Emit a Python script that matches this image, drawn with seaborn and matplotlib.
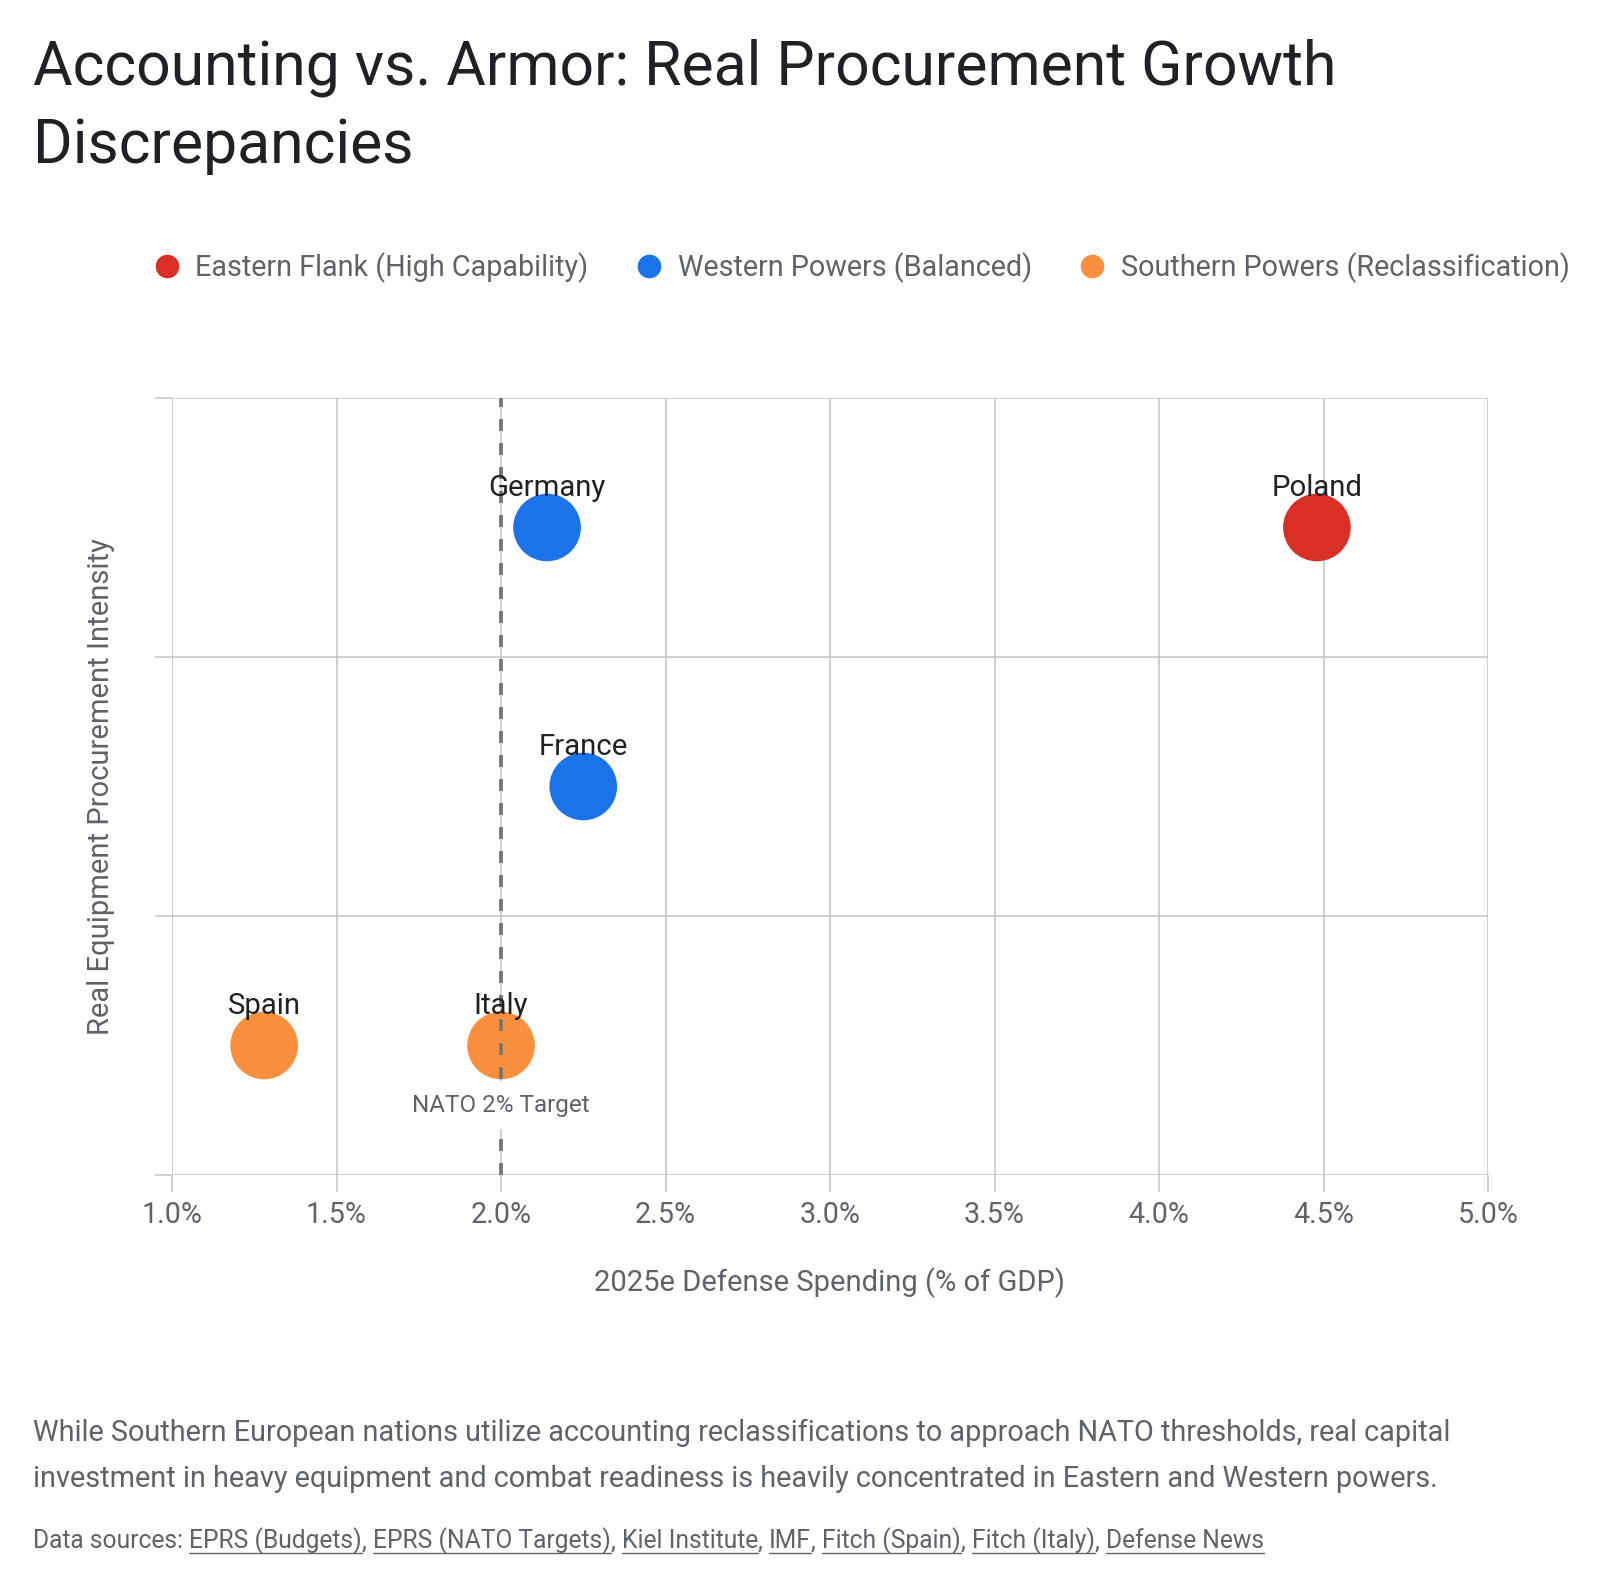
import matplotlib
matplotlib.use("Agg")
import matplotlib.pyplot as plt
from matplotlib.lines import Line2D
import matplotlib.transforms as mtransforms
import seaborn as sns
import pandas as pd

# ---------------- data ----------------
countries = ["Poland", "Germany", "France", "Italy", "Spain"]
spending = [4.48, 2.14, 2.25, 2.00, 1.28]
intensity = [2.5, 2.5, 1.5, 0.5, 0.5]
groups = ["Eastern Flank (High Capability)", "Western Powers (Balanced)",
          "Western Powers (Balanced)", "Southern Powers (Reclassification)",
          "Southern Powers (Reclassification)"]
group_order = ["Eastern Flank (High Capability)", "Western Powers (Balanced)",
               "Southern Powers (Reclassification)"]
group_colors = ["#D93025", "#1A73E8", "#FA903E"]
x_ticks = [1.0, 1.5, 2.0, 2.5, 3.0, 3.5, 4.0, 4.5, 5.0]
x_tick_labels = ["1.0%", "1.5%", "2.0%", "2.5%", "3.0%", "3.5%", "4.0%", "4.5%", "5.0%"]
y_ticks = [0, 1, 2, 3]
nato_target = 2.0

title = "Accounting vs. Armor: Real Procurement Growth\nDiscrepancies"
x_label = "2025e Defense Spending (% of GDP)"
y_label = "Real Equipment Procurement Intensity"
footnote = ("While Southern European nations utilize accounting reclassifications to approach NATO thresholds, real capital\n"
            "investment in heavy equipment and combat readiness is heavily concentrated in Eastern and Western powers.")
sources = ["EPRS (Budgets)", "EPRS (NATO Targets)", "Kiel Institute", "IMF",
           "Fitch (Spain)", "Fitch (Italy)", "Defense News"]

df = pd.DataFrame({"country": countries, "spending": spending,
                   "intensity": intensity, "group": groups})

# ---------------- style ----------------
sns.set_theme(style="white")
plt.rcParams["font.family"] = ["Roboto", "DejaVu Sans"]

DARK = "#202124"
GREY = "#5f6368"
GRID = "#C4C4C4"

W, H = 1600, 1590
fig = plt.figure(figsize=(W / 100, H / 100), dpi=100)
ax = fig.add_axes([172 / W, 1 - 1175 / H, (1488 - 172) / W, (1175 - 398) / H])

sns.scatterplot(data=df, x="spending", y="intensity", hue="group",
                hue_order=group_order, palette=group_colors, s=2370,
                linewidth=0, legend=False, ax=ax, zorder=3)

ax.set_xlim(1.0, 5.0)
ax.set_ylim(0, 3)
ax.set_xticks(x_ticks)
ax.set_xticklabels(x_tick_labels)
ax.set_yticks(y_ticks)
ax.set_yticklabels([])
ax.grid(True, color=GRID, linewidth=1.1, zorder=0)
ax.set_axisbelow(True)
for sp in ax.spines.values():
    sp.set_visible(False)
ax.tick_params(axis="both", which="both", length=12, width=1.1, color=GRID,
               labelsize=20.6, labelcolor=GREY, pad=7)
ax.tick_params(axis="x", bottom=True)
ax.tick_params(axis="y", left=True)

ax.set_xlabel(x_label, fontsize=21, color=GREY, labelpad=27)
ax.set_ylabel(y_label, fontsize=21, color=GREY, labelpad=22)

# NATO target line
ax.axvline(nato_target, color="#757575", linewidth=2.7, linestyle=(0, (3.2, 3.2)), zorder=4)
trans = mtransforms.blended_transform_factory(ax.transData, ax.transAxes)
ax.text(nato_target, 0.09, "NATO 2% Target", transform=trans, ha="center", va="center",
        fontsize=17.5, color=GREY, zorder=5,
        bbox=dict(boxstyle="square,pad=0.5", facecolor="white", edgecolor="none"))

# country labels
for c, xv, yv in zip(countries, spending, intensity):
    ax.annotate(c, (xv, yv), xytext=(0, 23), textcoords="offset points",
                ha="center", va="baseline", fontsize=21.2, color=DARK, zorder=6)

# title
fig.text(33 / W, 1 - 163 / H, title, fontsize=43.7, color=DARK, ha="left",
         va="baseline", linespacing=1.43)

# legend
handles = [Line2D([0], [0], marker="o", linestyle="", markersize=17,
                  markerfacecolor=c, markeredgewidth=0) for c in group_colors]
fig.legend(handles, group_order, loc="center", bbox_to_anchor=(861 / W, 1 - 268 / H),
           ncol=3, frameon=False, fontsize=20.7, labelcolor=GREY,
           handletextpad=0.5, columnspacing=1.6, handlelength=1.0)

# footnote
fig.text(33 / W, 1 - 1487 / H, footnote, fontsize=20.8, color=GREY, ha="left",
         va="baseline", linespacing=1.81)

# sources with underlines
fig.canvas.draw()
renderer = fig.canvas.get_renderer()
x_px = 33
y_px = H - 1548
fs = 17.75
t = fig.text(x_px / W, y_px / H, "Data sources: ", fontsize=fs, color=GREY,
             ha="left", va="baseline")
x_px = t.get_window_extent(renderer).x1
for i, s in enumerate(sources):
    t = fig.text(x_px / W, y_px / H, s, fontsize=fs, color=GREY, ha="left", va="baseline")
    bb = t.get_window_extent(renderer)
    fig.add_artist(Line2D([bb.x0 / W, bb.x1 / W], [(y_px - 5) / H, (y_px - 5) / H],
                          transform=fig.transFigure, color=GREY, linewidth=1.0))
    x_px = bb.x1
    if i < len(sources) - 1:
        t = fig.text(x_px / W, y_px / H, ", ", fontsize=fs, color=GREY, ha="left", va="baseline")
        x_px = t.get_window_extent(renderer).x1

fig.savefig("out.png", dpi=100, facecolor="white")
